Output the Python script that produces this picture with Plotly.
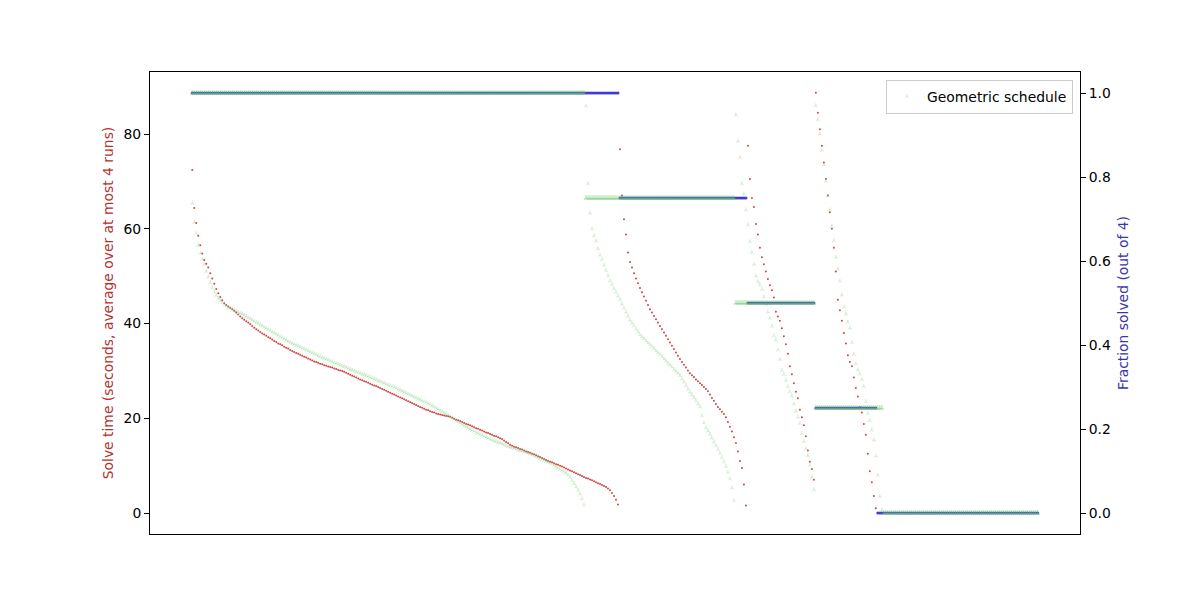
import plotly.graph_objects as go

# ---------------- data ----------------
# Instances are ranked per schedule by (fraction solved desc, solve time desc).
fraction_levels = [1.0, 0.75, 0.5, 0.25]

# Baseline schedule (red times / blue fractions)
red_t_100 = [
    72.4, 64.4, 61.2, 58.5, 56.5, 54.8, 53.4, 52.6, 51.8, 50.6,
    49.5, 48.4, 47.3, 46.4, 45.6, 44.9, 44.3, 43.9, 43.6, 43.3,
    43.0, 42.7, 42.3, 41.9, 41.5, 41.1, 40.8, 40.5, 40.2, 39.9,
    39.5, 39.1, 38.8, 38.5, 38.2, 37.9, 37.7, 37.4, 37.1, 36.9,
    36.6, 36.3, 36.1, 35.8, 35.6, 35.4, 35.1, 34.9, 34.7, 34.4,
    34.2, 34.0, 33.8, 33.6, 33.4, 33.2, 33.0, 32.8, 32.6, 32.4,
    32.2, 32.0, 31.9, 31.7, 31.5, 31.4, 31.2, 31.1, 30.9, 30.8,
    30.7, 30.5, 30.4, 30.2, 30.1, 30.0, 29.8, 29.6, 29.4, 29.2,
    29.0, 28.8, 28.6, 28.4, 28.2, 28.0, 27.8, 27.7, 27.5, 27.3,
    27.1, 26.9, 26.8, 26.6, 26.4, 26.2, 26.0, 25.8, 25.6, 25.4,
    25.2, 25.0, 24.8, 24.6, 24.4, 24.2, 24.0, 23.8, 23.6, 23.4,
    23.2, 23.0, 22.8, 22.6, 22.4, 22.2, 22.0, 21.8, 21.7, 21.5,
    21.3, 21.2, 21.0, 20.9, 20.8, 20.7, 20.6, 20.5, 20.4, 20.3,
    20.1, 19.9, 19.7, 19.6, 19.4, 19.2, 19.0, 18.8, 18.7, 18.5,
    18.3, 18.1, 17.9, 17.8, 17.6, 17.4, 17.2, 17.0, 16.9, 16.7,
    16.5, 16.3, 16.2, 16.0, 15.8, 15.6, 15.3, 15.0, 14.7, 14.4,
    14.2, 14.0, 13.9, 13.7, 13.5, 13.4, 13.2, 13.0, 12.9, 12.7,
    12.5, 12.4, 12.2, 12.0, 11.8, 11.6, 11.4, 11.2, 11.0, 10.8,
    10.7, 10.5, 10.3, 10.2, 10.0, 9.8, 9.6, 9.4, 9.2, 9.0,
    8.8, 8.6, 8.4, 8.2, 8.0, 7.8, 7.6, 7.4, 7.3, 7.1,
    6.9, 6.7, 6.5, 6.3, 6.1, 5.9, 5.7, 5.5, 5.2, 4.8,
    4.2, 3.6, 2.8, 1.8,
]
red_t_075 = [
    76.8, 67.0, 62.0, 58.8, 55.0, 53.0, 51.8, 50.6, 49.5, 48.5,
    47.5, 46.6, 45.7, 44.8, 43.9, 43.0, 42.3, 41.6, 40.9, 40.2,
    39.5, 38.8, 38.1, 37.4, 36.7, 36.0, 35.3, 34.6, 33.9, 33.2,
    32.5, 31.9, 31.3, 30.7, 30.1, 29.5, 29.1, 28.7, 28.2, 27.8,
    27.4, 27.0, 26.6, 26.2, 25.7, 25.0, 24.3, 23.7, 23.0, 22.4,
    21.9, 21.4, 20.9, 20.2, 19.2, 18.2, 17.2, 16.0, 14.8, 13.0,
    11.0, 9.5, 6.0, 1.6,
]
red_t_050 = [
    77.5, 70.5, 66.5, 64.6, 61.0, 58.8, 56.0, 54.0, 52.5, 51.0,
    49.4, 48.1, 47.0, 45.5, 42.5, 41.5, 40.6, 39.0, 37.3, 35.6,
    33.6, 31.0, 29.3, 27.4, 25.6, 24.2, 21.8, 20.2, 18.5, 16.2,
    13.2, 10.8, 9.3, 7.0,
]
red_t_025 = [
    88.7, 84.5, 81.0, 77.5, 74.0, 70.5, 67.0, 63.5, 60.0, 56.0,
    51.0, 45.0, 42.8, 40.6, 38.0, 35.8, 33.3, 31.9, 31.0, 28.6,
    26.4, 24.6, 22.4, 21.2, 18.8, 16.5, 12.5, 8.8, 6.5, 3.6,
    1.0,
]
red_unsolved = 81

# Geometric schedule (green)
geo_t_100 = [
    65.4, 61.4, 59.0, 56.5, 54.8, 53.5, 52.5, 51.0, 49.8, 48.6,
    47.5, 46.6, 45.9, 45.3, 44.8, 44.4, 44.0, 43.7, 43.4, 43.2,
    43.0, 42.8, 42.6, 42.4, 42.2, 42.0, 41.7, 41.5, 41.2, 41.0,
    40.7, 40.5, 40.2, 40.0, 39.7, 39.5, 39.2, 39.0, 38.7, 38.5,
    38.2, 38.0, 37.7, 37.5, 37.2, 37.0, 36.7, 36.5, 36.2, 36.0,
    35.8, 35.6, 35.4, 35.2, 35.0, 34.8, 34.6, 34.4, 34.2, 34.0,
    33.8, 33.6, 33.4, 33.2, 33.0, 32.8, 32.6, 32.5, 32.3, 32.1,
    31.9, 31.7, 31.6, 31.4, 31.2, 31.0, 30.9, 30.7, 30.5, 30.3,
    30.2, 30.0, 29.8, 29.7, 29.5, 29.3, 29.2, 29.0, 28.8, 28.6,
    28.5, 28.3, 28.1, 27.9, 27.8, 27.6, 27.4, 27.2, 27.0, 26.9,
    26.7, 26.5, 26.3, 26.1, 25.9, 25.7, 25.5, 25.3, 25.1, 24.9,
    24.7, 24.5, 24.3, 24.1, 23.9, 23.7, 23.5, 23.3, 23.1, 22.9,
    22.6, 22.4, 22.1, 21.9, 21.6, 21.4, 21.1, 20.9, 20.6, 20.4,
    20.1, 19.8, 19.5, 19.2, 19.0, 18.7, 18.4, 18.2, 17.9, 17.7,
    17.5, 17.3, 17.0, 16.8, 16.6, 16.4, 16.2, 16.0, 15.8, 15.6,
    15.4, 15.2, 15.1, 14.9, 14.8, 14.6, 14.4, 14.2, 14.0, 13.9,
    13.8, 13.6, 13.5, 13.3, 13.2, 13.1, 12.9, 12.8, 12.6, 12.5,
    12.3, 12.1, 11.9, 11.7, 11.5, 11.3, 11.1, 10.9, 10.8, 10.6,
    10.4, 10.1, 9.8, 9.5, 9.2, 9.0, 8.7, 8.4, 8.0, 7.5,
    6.8, 6.2, 5.5, 4.8, 4.0, 3.0, 1.7,
]
geo_t_075 = [
    85.9, 69.5, 63.3, 60.0, 58.5, 57.4, 55.8, 54.4, 53.5, 52.3,
    51.2, 50.1, 49.0, 48.2, 47.4, 46.6, 45.8, 45.0, 44.1, 43.3,
    42.4, 41.5, 40.7, 40.1, 39.5, 38.8, 38.2, 37.6, 37.2, 36.8,
    36.3, 35.9, 35.5, 35.1, 34.7, 34.2, 33.8, 33.4, 33.0, 32.5,
    32.1, 31.6, 31.2, 30.8, 30.3, 29.9, 29.5, 29.0, 28.3, 27.6,
    26.9, 26.2, 25.5, 24.9, 24.3, 23.7, 23.0, 22.4, 20.5, 19.0,
    18.0, 17.3, 16.6, 15.8, 15.0, 14.2, 13.4, 12.6, 11.7, 10.8,
    9.8, 8.6, 7.2, 5.3, 2.6,
]
geo_t_050 = [
    84.0, 78.5, 75.0, 69.5, 67.3, 64.0, 60.8, 57.3, 55.0, 52.5,
    50.0, 48.8, 48.2, 47.2, 45.6, 44.0, 42.4, 41.1, 39.4, 37.4,
    36.5, 34.4, 32.4, 30.1, 29.2, 28.0, 26.7, 25.6, 24.7, 23.0,
    21.5, 20.2, 18.9, 16.8, 15.1, 13.5, 12.1, 10.1, 7.6, 4.9,
]
geo_t_025 = [
    86.0, 83.0, 80.0, 76.5, 73.5, 70.0, 67.0, 64.0, 60.5, 57.5,
    54.0, 51.5, 49.0, 46.0, 43.5, 42.0, 40.3, 39.0, 36.0, 33.5,
    31.5, 30.2, 29.3, 28.2, 26.7, 23.5, 21.0, 19.5, 17.5, 15.4,
    12.0, 8.0, 3.5, 0.6,
]
geo_unsolved = 78

# ---------------- build per-instance tables ----------------
def build(segments, unsolved):
    times, fracs = [], []
    for lvl, seg in zip(fraction_levels, segments):
        times.extend(seg)
        fracs.extend([lvl] * len(seg))
    fracs.extend([0.0] * unsolved)
    return times, fracs

red_times, red_fracs = build([red_t_100, red_t_075, red_t_050, red_t_025], red_unsolved)
geo_times, geo_fracs = build([geo_t_100, geo_t_075, geo_t_050, geo_t_025], geo_unsolved)

n = len(red_fracs)
red_x_t = list(range(len(red_times)))
geo_x_t = list(range(len(geo_times)))
x_all = list(range(n))

RED = "rgba(200,35,35,0.85)"
BLUE = "rgba(55,55,200,0.95)"
GREEN = "rgba(110,200,110,0.6)"
GREEN_F = "rgba(110,200,110,0.55)"

fig = go.Figure()
fig.add_trace(go.Scatter(
    x=red_x_t, y=red_times, mode="markers", yaxis="y", showlegend=False,
    marker=dict(symbol="circle", size=2.0, color=RED, line=dict(width=0))))
fig.add_trace(go.Scatter(
    x=geo_x_t, y=geo_times, mode="markers", yaxis="y", name="Geometric schedule",
    showlegend=True,
    marker=dict(symbol="y-up", size=3, color=GREEN, line=dict(width=0.6, color=GREEN))))
fig.add_trace(go.Scatter(
    x=x_all, y=red_fracs, mode="markers", yaxis="y2", showlegend=False,
    marker=dict(symbol="circle", size=3.0, color=BLUE, line=dict(width=0))))
fig.add_trace(go.Scatter(
    x=x_all, y=geo_fracs, mode="markers", yaxis="y2", showlegend=False,
    marker=dict(symbol="y-up", size=3.5, color=GREEN_F,
                line=dict(width=1.2, color=GREEN_F))))

FONT = "DejaVu Sans"
FS = 13.9
span = n - 1
fig.update_layout(
    width=1200, height=600,
    margin=dict(l=150, r=120, t=72, b=66),
    paper_bgcolor="white", plot_bgcolor="white",
    font=dict(family=FONT, size=FS, color="black"),
    xaxis=dict(range=[-0.05 * span, 1.05 * span], showticklabels=False, ticks="",
               showgrid=False, zeroline=False, showline=True, linecolor="black",
               linewidth=1, mirror=True),
    yaxis=dict(range=[-4.43, 93.09], tickvals=[0, 20, 40, 60, 80], ticks="outside",
               ticklen=5, tickcolor="black", showgrid=False, zeroline=False,
               showline=True, linecolor="black", linewidth=1,
               title=dict(text="Solve time (seconds, average over at most 4 runs)",
                          font=dict(color="#b23333", size=FS, family=FONT), standoff=6)),
    yaxis2=dict(range=[-0.05, 1.05], tickvals=[0, 0.2, 0.4, 0.6, 0.8, 1.0],
                tickformat=".1f", overlaying="y", side="right", ticks="outside",
                ticklen=5, tickcolor="black", showgrid=False, zeroline=False,
                showline=True, linecolor="black", linewidth=1,
                title=dict(text="Fraction solved (out of 4)",
                           font=dict(color="#3737aa", size=FS, family=FONT), standoff=8)),
    legend=dict(x=0.9925, y=0.983, xanchor="right", yanchor="top",
                bgcolor="rgba(255,255,255,0.8)", bordercolor="#cccccc", borderwidth=1,
                font=dict(family=FONT, size=FS)),
)

fig.write_html("out.html")
